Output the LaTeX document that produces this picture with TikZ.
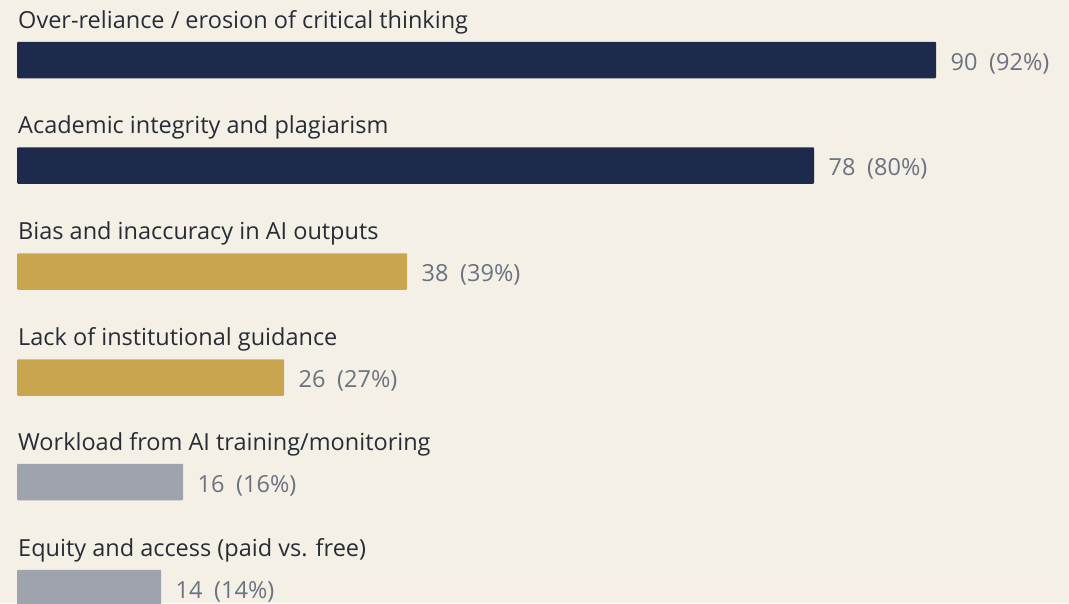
\documentclass[tikz,border=0pt]{standalone}
\usepackage{fontspec}
\setmainfont{Open Sans}
\usepackage{xcolor}
\definecolor{paper}{HTML}{F5F0E6}
\definecolor{navy}{HTML}{1E2A4C}
\definecolor{gold}{HTML}{C9A54F}
\definecolor{slate}{HTML}{9EA3AE}
\definecolor{ink}{HTML}{272C36}
\definecolor{numgrey}{HTML}{6B7280}
\begin{document}
\begin{tikzpicture}[x=1pt,y=-1pt,
    lbl/.style={anchor=base west, inner sep=0pt, text=ink, font=\fontsize{23.5}{26}\selectfont},
    bar/.style={anchor=west, inner sep=0pt, minimum height=36.5pt, rounded corners=1pt},
    val/.style={anchor=base west, inner sep=0pt, text=numgrey, font=\fontsize{23.5}{26}\selectfont, xshift=14pt, yshift=-10pt}]
    \fill[paper] (0,0) rectangle (1069,603);
    \useasboundingbox (0,0) rectangle (1069,603);
    % rows
    \node[lbl] (l1) at (18,28) {Over-reliance / erosion of critical thinking};
    \node[lbl] (l2) at (18,133) {Academic integrity and plagiarism};
    \node[lbl] (l3) at (18,239) {Bias and inaccuracy in AI outputs};
    \node[lbl] (l4) at (18,345) {Lack of institutional guidance};
    \node[lbl] (l5) at (18,450) {Workload from AI training/monitoring};
    \node[lbl] (l6) at (18,556) {Equity and access (paid vs. free)};
    \node[bar, fill=navy, minimum width=919pt] (b1) at (17,60) {};
    \node[bar, fill=navy, minimum width=797pt] (b2) at (17,165.5) {};
    \node[bar, fill=gold, minimum width=390pt] (b3) at (17,271.5) {};
    \node[bar, fill=gold, minimum width=267pt] (b4) at (17,377.5) {};
    \node[bar, fill=slate, minimum width=166pt] (b5) at (17,482) {};
    \node[bar, fill=slate, minimum width=144pt] (b6) at (17,588) {};
    \node[val] (v1) at (b1.east) {90\hspace{0.5em}(92\%)};
    \node[val] (v2) at (b2.east) {78\hspace{0.5em}(80\%)};
    \node[val] (v3) at (b3.east) {38\hspace{0.5em}(39\%)};
    \node[val] (v4) at (b4.east) {26\hspace{0.5em}(27\%)};
    \node[val] (v5) at (b5.east) {16\hspace{0.5em}(16\%)};
    \node[val] (v6) at (b6.east) {14\hspace{0.5em}(14\%)};
\end{tikzpicture}
\end{document}
